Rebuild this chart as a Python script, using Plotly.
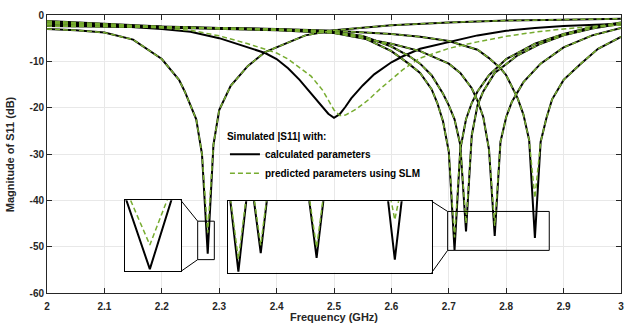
import plotly.graph_objects as go

# ---------------- data ----------------
# Curve A: resonance near 2.28 GHz
freq_A = [2.00, 2.05, 2.10, 2.15, 2.20, 2.23, 2.24, 2.25, 2.26, 2.27, 2.28, 2.29, 2.30, 2.32, 2.35,
          2.38, 2.40, 2.45, 2.50, 2.60, 2.70, 2.80, 2.90, 3.00]
calc_A = [-3.0, -3.3, -3.8, -5.3, -9.5, -14.0, -16.5, -19.5, -22.5, -30.0, -51.5, -28.0, -20.5, -15.3, -11.0,
          -8.0, -7.0, -4.4, -3.3, -2.2, -1.6, -1.2, -1.0, -0.8]
pred_A = [-3.0, -3.3, -3.8, -5.3, -9.5, -14.0, -16.5, -19.5, -22.5, -30.0, -47.0, -28.0, -20.5, -15.3, -11.0,
          -8.0, -7.0, -4.4, -3.3, -2.2, -1.6, -1.2, -1.0, -0.8]

# Curve C: broad resonance near 2.50 GHz
freq_C_calc = [2.00, 2.10, 2.20, 2.25, 2.30, 2.35, 2.38, 2.40, 2.42, 2.44, 2.46, 2.48, 2.49, 2.50, 2.51,
               2.52, 2.53, 2.55, 2.57, 2.60, 2.62, 2.65, 2.70, 2.75, 2.80, 2.85, 2.90, 2.95, 3.00]
calc_C = [-1.6, -2.2, -3.0, -3.6, -5.0, -7.0, -8.2, -9.5, -11.5, -14.0, -17.0, -20.0, -21.3, -22.2, -21.4,
          -19.8, -18.0, -15.2, -12.8, -10.2, -8.9, -7.3, -5.8, -4.4, -3.4, -2.8, -2.4, -2.1, -1.9]
freq_C_pred = [2.00, 2.10, 2.20, 2.25, 2.30, 2.35, 2.40, 2.42, 2.44, 2.46, 2.48, 2.50, 2.51, 2.52, 2.54,
               2.56, 2.58, 2.60, 2.62, 2.65, 2.70, 2.75, 2.80, 2.85, 2.90, 2.95, 3.00]
pred_C = [-1.5, -2.1, -2.8, -3.3, -4.5, -6.2, -8.2, -9.5, -11.3, -13.2, -16.2, -20.5, -21.7, -21.6, -20.2,
          -18.3, -16.0, -13.8, -11.8, -9.3, -7.2, -5.8, -4.6, -3.7, -3.0, -2.5, -2.2]

# Curve B1: resonance near 2.71 GHz
freq_B1 = [2.00, 2.10, 2.20, 2.30, 2.40, 2.50, 2.55, 2.60, 2.63, 2.65, 2.67, 2.68, 2.69, 2.70, 2.71,
           2.72, 2.73, 2.74, 2.75, 2.77, 2.80, 2.85, 2.90, 2.95, 3.00]
calc_B1 = [-1.8, -2.2, -2.5, -2.9, -3.2, -3.8, -4.8, -7.8, -10.5, -12.5, -16.0, -19.0, -23.0, -29.5, -50.7,
           -29.0, -22.5, -19.0, -16.5, -13.0, -9.5, -6.2, -4.1, -2.6, -1.6]
pred_B1 = [-1.8, -2.2, -2.5, -2.9, -3.2, -3.8, -4.8, -7.8, -10.5, -12.5, -16.0, -19.0, -23.0, -29.5, -48.0,
           -29.0, -22.5, -19.0, -16.5, -13.0, -9.5, -6.2, -4.1, -2.6, -1.6]

# Curve B2: resonance near 2.73 GHz
freq_B2 = [2.00, 2.10, 2.20, 2.30, 2.40, 2.50, 2.55, 2.60, 2.63, 2.65, 2.67, 2.69, 2.70, 2.71, 2.72,
           2.73, 2.74, 2.75, 2.76, 2.78, 2.82, 2.86, 2.90, 2.95, 3.00]
calc_B2 = [-1.3, -1.9, -2.5, -2.8, -3.1, -3.6, -4.5, -6.8, -8.8, -10.5, -13.0, -17.0, -19.5, -22.5, -28.0,
           -46.7, -26.0, -19.5, -16.5, -12.5, -8.7, -6.2, -4.4, -2.9, -1.9]
pred_B2 = [-1.3, -1.9, -2.5, -2.8, -3.1, -3.6, -4.5, -6.8, -8.8, -10.5, -13.0, -17.0, -19.5, -22.5, -28.0,
           -45.0, -26.0, -19.5, -16.5, -12.5, -8.7, -6.2, -4.4, -2.9, -1.9]

# Curve B3: resonance near 2.78 GHz
freq_B3 = [2.00, 2.10, 2.20, 2.30, 2.40, 2.50, 2.60, 2.65, 2.70, 2.72, 2.74, 2.75, 2.76, 2.77, 2.78,
           2.79, 2.80, 2.81, 2.83, 2.86, 2.90, 2.95, 3.00]
calc_B3 = [-2.1, -2.4, -2.6, -2.9, -3.3, -3.9, -6.2, -7.8, -10.5, -12.5, -15.8, -18.5, -22.0, -29.0, -47.7,
           -27.4, -22.0, -18.7, -14.5, -10.5, -7.0, -4.4, -2.8]
pred_B3 = [-2.1, -2.4, -2.6, -2.9, -3.3, -3.9, -6.2, -7.8, -10.5, -12.5, -15.8, -18.5, -22.0, -29.0, -45.5,
           -27.4, -22.0, -18.7, -14.5, -10.5, -7.0, -4.4, -2.8]

# Curve B4: resonance near 2.85 GHz
freq_B4 = [2.00, 2.10, 2.20, 2.30, 2.40, 2.50, 2.60, 2.65, 2.70, 2.75, 2.77, 2.79, 2.80, 2.81, 2.82,
           2.83, 2.84, 2.85, 2.86, 2.87, 2.88, 2.90, 2.93, 2.96, 3.00]
calc_B4 = [-2.4, -2.5, -2.6, -2.8, -3.0, -3.4, -4.1, -4.7, -5.6, -7.5, -9.3, -11.5, -13.0, -15.5, -18.0,
           -21.5, -27.0, -48.1, -27.4, -22.3, -18.2, -14.0, -10.5, -7.3, -4.7]
pred_B4 = [-2.4, -2.5, -2.6, -2.8, -3.0, -3.4, -4.1, -4.7, -5.6, -7.5, -9.3, -11.5, -13.0, -15.5, -18.0,
           -21.5, -27.0, -39.5, -27.4, -22.3, -18.2, -14.0, -10.5, -7.3, -4.7]

x_ticks = [2.0, 2.1, 2.2, 2.3, 2.4, 2.5, 2.6, 2.7, 2.8, 2.9, 3.0]
x_tick_labels = ["2", "2.1", "2.2", "2.3", "2.4", "2.5", "2.6", "2.7", "2.8", "2.9", "3"]
y_ticks = [0, -10, -20, -30, -40, -50, -60]
y_tick_labels = ["0", "-10", "-20", "-30", "-40", "-50", "-60"]

x_title = "Frequency (GHz)"
y_title = "Magnitude of S11 (dB)"
legend_title = "Simulated |S11| with:"
name_calc = "calculated parameters"
name_pred = "predicted parameters using SLM"

# ---------------- figure ----------------
BLACK = "#000000"
GREEN = "#77AC30"
FONT = "Liberation Sans, Arial, sans-serif"
AX = "#262626"

calc_series = [(freq_A, calc_A), (freq_C_calc, calc_C), (freq_B1, calc_B1),
               (freq_B2, calc_B2), (freq_B3, calc_B3), (freq_B4, calc_B4)]
pred_series = [(freq_A, pred_A), (freq_C_pred, pred_C), (freq_B1, pred_B1),
               (freq_B2, pred_B2), (freq_B3, pred_B3), (freq_B4, pred_B4)]

fig = go.Figure()
for xa, ya in [("x", "y"), ("x2", "y2"), ("x3", "y3")]:
    for i, (f, v) in enumerate(calc_series):
        fig.add_trace(go.Scatter(x=f, y=v, mode="lines", xaxis=xa, yaxis=ya,
                                 line=dict(color=BLACK, width=2),
                                 name=name_calc, legendgroup="calc",
                                 showlegend=(xa == "x" and i == 0)))
    for i, (f, v) in enumerate(pred_series):
        fig.add_trace(go.Scatter(x=f, y=v, mode="lines", xaxis=xa, yaxis=ya,
                                 line=dict(color=GREEN, width=1.5, dash="5px,3px"),
                                 name=name_pred, legendgroup="pred",
                                 showlegend=(xa == "x" and i == 0)))

tickfont = dict(family=FONT, size=10, color=AX, weight="bold")
inset_axis = dict(showticklabels=False, ticks="", showgrid=False, zeroline=False,
                  showline=True, mirror=True, linecolor="black", linewidth=1, automargin=False)
fig.update_layout(
    width=633, height=323,
    margin=dict(l=47, r=12, t=15, b=30, autoexpand=False),
    paper_bgcolor="white", plot_bgcolor="white",
    showlegend=True,
    legend=dict(
        x=0.31, y=0.598, xanchor="left", yanchor="top",
        bgcolor="rgba(0,0,0,0)", borderwidth=0,
        font=dict(family=FONT, size=10, color="black", weight="bold"),
        title=dict(text=legend_title, font=dict(family=FONT, size=10, color="black", weight="bold")),
        itemwidth=30, tracegroupgap=0,
    ),
    xaxis=dict(
        range=[2, 3], tickvals=x_ticks, ticktext=x_tick_labels, automargin=False,
        ticks="inside", ticklen=5, tickcolor=AX, tickwidth=1,
        showline=True, linecolor=AX, linewidth=1, mirror="ticks",
        showgrid=True, gridcolor="#e8e8e8", gridwidth=1, zeroline=False,
        tickfont=tickfont, ticklabelstandoff=4,
    ),
    yaxis=dict(
        range=[-60, 0], tickvals=y_ticks, ticktext=y_tick_labels, automargin=False,
        ticks="inside", ticklen=5, tickcolor=AX, tickwidth=1,
        showline=True, linecolor=AX, linewidth=1, mirror="ticks",
        showgrid=True, gridcolor="#e8e8e8", gridwidth=1, zeroline=False,
        tickfont=tickfont,
    ),
    # inset 1 (magnified dip near 2.28 GHz)
    xaxis2=dict(domain=[0.1359, 0.2334], anchor="y2", range=[2.2737, 2.2879], **inset_axis),
    yaxis2=dict(domain=[0.078, 0.3335], anchor="x2", range=[-51.9, -38.7], **inset_axis),
    # inset 2 (magnified dips 2.70-2.88 GHz)
    xaxis3=dict(domain=[0.3159, 0.6702], anchor="y3", range=[2.701, 2.883], **inset_axis),
    yaxis3=dict(domain=[0.0734, 0.3299], anchor="x3", range=[-50.9, -35.5], **inset_axis),
)

# axis titles
fig.add_annotation(text=x_title, xref="paper", yref="paper", x=0.5, y=-0.087,
                   xanchor="center", yanchor="middle", showarrow=False,
                   font=dict(family=FONT, size=11, color=AX, weight="bold"))
fig.add_annotation(text=y_title, xref="paper", yref="paper", x=-0.064, y=0.5,
                   xanchor="center", yanchor="middle", showarrow=False, textangle=-90,
                   font=dict(family=FONT, size=11, color=AX, weight="bold"))

# source boxes and connectors (main-axes data coordinates)
line_style = dict(color="black", width=1)
fig.add_shape(type="rect", xref="x", yref="y", x0=2.2625, x1=2.2915, y0=-52.8, y1=-44.5, line=line_style)
fig.add_shape(type="rect", xref="x", yref="y", x0=2.698, x1=2.875, y0=-50.8, y1=-42.4, line=line_style)
fig.add_shape(type="line", xref="x", yref="y", x0=2.2334, y0=-40.04, x1=2.2625, y1=-44.5, line=line_style)
fig.add_shape(type="line", xref="x", yref="y", x0=2.2334, y0=-55.32, x1=2.2625, y1=-52.8, line=line_style)
fig.add_shape(type="line", xref="x", yref="y", x0=2.6702, y0=-40.2, x1=2.698, y1=-42.4, line=line_style)
fig.add_shape(type="line", xref="x", yref="y", x0=2.6702, y0=-55.6, x1=2.698, y1=-50.8, line=line_style)

fig.write_html("out.html")
